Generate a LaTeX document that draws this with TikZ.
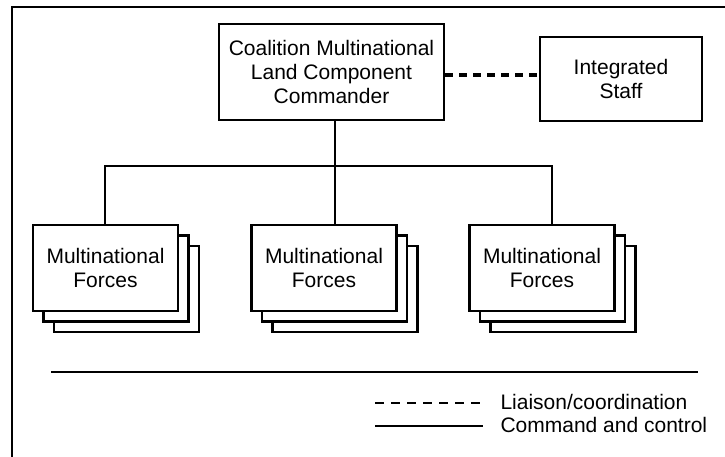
\documentclass[tikz,border=0pt]{standalone}
\usepackage{fontspec}
\setmainfont{Liberation Sans}
\usetikzlibrary{calc}

\begin{document}
\begin{tikzpicture}[x=1pt,y=-1pt]
        \tikzstyle{every node}=[font=\fontsize{21}{24}\selectfont]
        \tikzstyle{box}=[draw,line width=2.8pt,fill=white,align=center,inner sep=0pt]
        \tikzstyle{unit}=[box,minimum width=145pt,minimum height=86pt]
        \useasboundingbox (0,0) rectangle (725,457);
            \draw[line width=2.8pt] (12,457) -- (12,7) -- (725,7);

            \node[box,minimum width=225pt,minimum height=96pt] (CMLCC) at (331.5,72) {Coalition Multinational\\Land Component\\Commander};
            \node[box,minimum width=162pt,minimum height=84pt] (IS) at (621,79) {Integrated\\Staff};

            \coordinate (M1) at (105.5,268);
            \coordinate (M2) at (324,268);
            \coordinate (M3) at (542,268);

            \node[unit] (F1c) at ($(M1)+(21,21)$) {};
            \node[unit] (F1b) at ($(M1)+(10.5,10.5)$) {};
            \node[unit] (F1) at (M1) {Multinational\\Forces};

            \node[unit] (F2c) at ($(M2)+(21,21)$) {};
            \node[unit] (F2b) at ($(M2)+(10.5,10.5)$) {};
            \node[unit] (F2) at (M2) {Multinational\\Forces};

            \node[unit] (F3c) at ($(M3)+(21,21)$) {};
            \node[unit] (F3b) at ($(M3)+(10.5,10.5)$) {};
            \node[unit] (F3) at (M3) {Multinational\\Forces};

            \coordinate (J1) at (105,166);
            \coordinate (J2) at (335,166);
            \coordinate (J3) at (552,166);

            \draw[line width=2pt] (J2 |- CMLCC.south) -- (J2 |- F2.north);
            \draw[line width=2pt] (J1 |- F1.north) -- (J1) -- (J3) -- (J3 |- F3.north);
            \draw[line width=4pt,dash pattern=on 8pt off 6pt] ([yshift=-3pt]CMLCC.east) -- ([yshift=-3pt]CMLCC.east -| IS.west);

            % legend
            \draw[line width=2.8pt] (51,372) -- (698,372);
            \node[anchor=base west] (LC) at (497,409) {Liaison/coordination};
            \node[anchor=base west] (CC) at (497,432) {Command and control};
            \coordinate (LCa) at (375,403);
            \coordinate (LCb) at (483,403);
            \coordinate (CCa) at (375,426);
            \coordinate (CCb) at (483,426);
            \draw[line width=2pt,dash pattern=on 9pt off 7pt] (LCa) -- (LCb);
            \draw[line width=2pt] (CCa) -- (CCb);

        \end{tikzpicture}
\end{document}
